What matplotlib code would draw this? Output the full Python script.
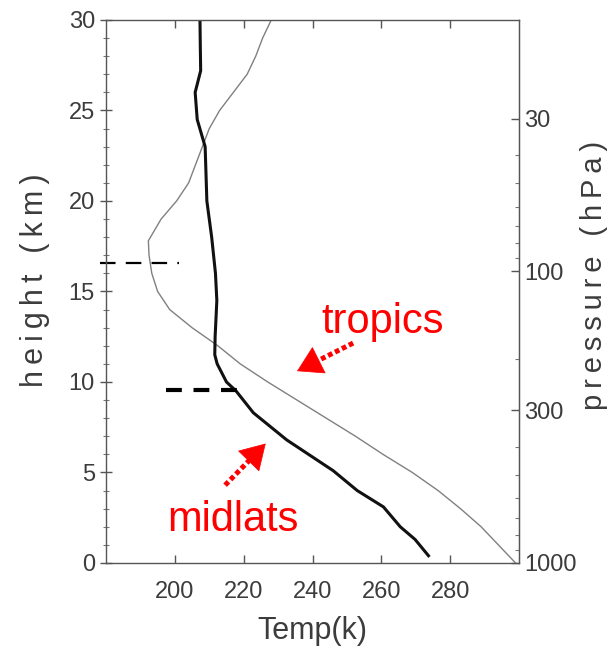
import numpy as np
import matplotlib
matplotlib.use("Agg")
import matplotlib.pyplot as plt
from matplotlib.ticker import FixedLocator, NullFormatter

# height (km) and temperature (K) profiles
trop_z = [0, 1, 2, 3, 4, 5, 6, 7, 8, 9, 10, 11, 12, 13, 14, 15, 16, 17, 17.8,
          19, 20, 21, 22, 23, 24, 25, 26, 27, 28, 29, 30]
trop_t = [299, 294, 289, 283, 276.5, 269, 260.5, 252.5, 244, 235.5, 227, 219,
          212.5, 205, 198.5, 195, 193.3, 192.5, 192.3, 196, 200.5, 204, 206,
          208, 210, 213, 217, 221, 223.5, 225.5, 228]

mid_z = [0.4, 1.3, 2.0, 3.1, 4.0, 5.1, 6.8, 8.3, 9.5, 10.0, 11.0, 11.5, 12.5,
         14.5, 16, 18, 20, 23, 24.5, 26, 27.2, 28.5, 30]
mid_t = [273.7, 269.8, 265.5, 260.6, 253, 246, 232.5, 222.8, 217.8, 215,
         212.3, 211.6, 211.7, 212.2, 211.8, 210.7, 209.3, 208.8, 206.5, 205.9,
         207.5, 207.4, 207.3]

# tropopause markers: (height, T start, T end)
trop_marks = [(16.6, 178.3, 201.2), (9.56, 197.4, 218.2)]

# red labels: (text, T, height) and arrows: (tail T, tail z, tip T, tip z)
labels = [('tropics', 260.5, 13.3), ('midlats', 216.9, 2.4)]
arrows = [(251.8, 12.15, 235.5, 10.6), (214.6, 4.3, 226.4, 6.6)]

temp_ticks = [200, 220, 240, 260, 280]
height_ticks = [0, 5, 10, 15, 20, 25, 30]
p_ticks = [30, 100, 300, 1000]
p_minor = [40, 50, 60, 70, 80, 90, 200, 400, 500, 600, 700, 800, 900]

H = 7.0  # scale height used for the pressure axis


def z2p(z):
    return 1000.0 * np.exp(-np.asarray(z, dtype=float) / H)


def p2z(p):
    p = np.clip(np.asarray(p, dtype=float), 1e-6, None)
    return H * np.log(1000.0 / p)


def spaced(s):
    # the original labels are set with wide letter spacing
    return '\u2009'.join(s)


tick_font = ['Liberation Sans', 'DejaVu Sans']
grey = '#3c3c3c'

fig = plt.figure(figsize=(6.15, 6.6), dpi=100)
ax = fig.add_axes([0.1724, 0.147, 0.6715, 0.8227])

ax.plot(trop_t, trop_z, color='#808080', lw=1.0)
ax.plot(mid_t, mid_z, color='#111111', lw=2.2)

# dashed tropopause lines
z, t0, t1 = trop_marks[0]
ax.plot([t0, t1], [z, z], color='black', lw=1.6, dashes=(7, 4.6), clip_on=False)
z, t0, t1 = trop_marks[1]
ax.plot([t0, t1], [z, z], color='black', lw=3, dashes=(3.8, 2.8))

ax.set_xlim(180, 300)
ax.set_ylim(0, 30)
ax.set_xticks(temp_ticks)
ax.set_yticks(height_ticks)
ax.yaxis.set_minor_locator(FixedLocator(np.arange(0, 31, 1)))

for s in ax.spines.values():
    s.set_color('#555555')
    s.set_linewidth(1.0)

ax.tick_params(axis='x', direction='in', top=True, length=6, width=1,
               color='#555555', labelsize=17, labelcolor=grey, pad=13)
ax.tick_params(axis='y', which='major', direction='inout', length=8, width=1,
               color='#555555', labelsize=17, labelcolor=grey, pad=4)
ax.tick_params(axis='y', which='minor', direction='inout', length=4, width=0.8,
               color='#777777')
for lab in ax.get_xticklabels() + ax.get_yticklabels():
    lab.set_family(tick_font)

ax.set_xlabel('Temp(k)', fontsize=22, color=grey, family=tick_font, labelpad=9)
ax.set_ylabel(spaced('height (km)'), fontsize=22, color=grey, family=tick_font)
ax.yaxis.set_label_coords(-0.135, 0.52)

# right pressure axis
sec = ax.secondary_yaxis('right', functions=(z2p, p2z))
sec.set_yticks(p_ticks)
sec.yaxis.set_minor_locator(FixedLocator(p_minor))
sec.yaxis.set_minor_formatter(NullFormatter())
sec.spines['right'].set_color('#555555')
sec.tick_params(axis='y', which='major', direction='in', length=6, width=1,
                color='#555555', labelsize=17, labelcolor=grey, pad=4)
sec.tick_params(axis='y', which='minor', direction='in', length=3, width=0.8,
                color='#777777')
for lab in sec.get_yticklabels():
    lab.set_family(tick_font)
sec.set_ylabel(spaced('pressure (hPa)'), fontsize=21, color=grey,
               family=tick_font)
sec.yaxis.set_label_coords(1.148, 0.53, transform=ax.transAxes)

# red annotations: dotted shaft plus solid head
for text, t, z in labels:
    ax.text(t, z, text, color='red', fontsize=30, family='Liberation Sans',
            ha='center', va='center')
for t0, z0, t1, z1 in arrows:
    tb = t0 + (t1 - t0) * 0.72
    zb = z0 + (z1 - z0) * 0.72
    ax.plot([t0, tb], [z0, zb], color='red', lw=3.6, dashes=(0.95, 0.6),
            dash_capstyle='butt')
    ax.annotate('', xy=(t1, z1), xytext=(tb, zb),
                arrowprops=dict(arrowstyle='-|>,head_length=1.0,head_width=0.6',
                                lw=0.5, color='red', shrinkA=0, shrinkB=0,
                                mutation_scale=17))

fig.savefig('out.png', dpi=100)
